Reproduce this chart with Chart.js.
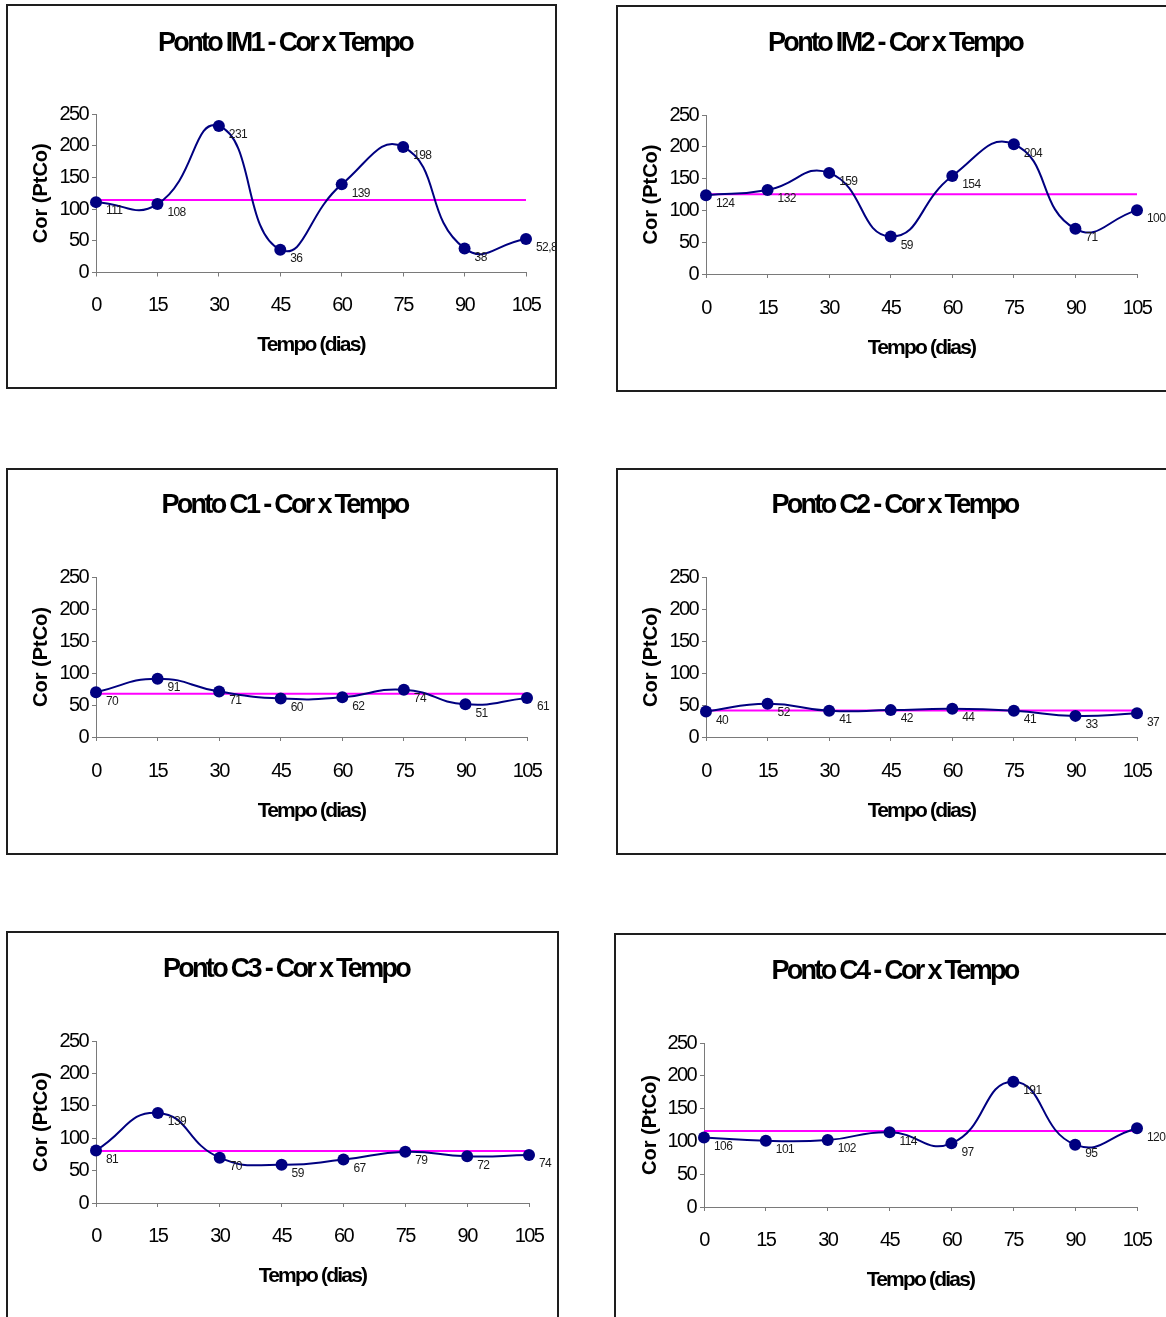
<!DOCTYPE html>
<html><head><meta charset="utf-8">
<script src="https://cdn.jsdelivr.net/npm/chart.js@4.4.1/dist/chart.umd.min.js"></script>
<style>
html,body{margin:0;padding:0;background:#fff;}
body{width:1166px;height:1317px;overflow:hidden;position:relative;}
.panel{position:absolute;box-sizing:border-box;border:2px solid #1e1e1e;background:#fff;}
.panel canvas{position:absolute;left:0;top:0;}
</style></head><body>
<script>
// ---------- data ----------
const days = [0, 15, 30, 45, 60, 75, 90, 105];
const xTickValues = [0, 15, 30, 45, 60, 75, 90, 105];
const yTickValues = [0, 50, 100, 150, 200, 250];
const chartTitles = ['Ponto IM1 - Cor x Tempo', 'Ponto IM2 - Cor x Tempo', 'Ponto C1 - Cor x Tempo',
                     'Ponto C2 - Cor x Tempo', 'Ponto C3 - Cor x Tempo', 'Ponto C4 - Cor x Tempo'];
const xAxisTitle = 'Tempo (dias)';
const yAxisTitle = 'Cor (PtCo)';
const corIM1 = [111, 108, 231, 36, 139, 198, 38, 52.8];
const corIM2 = [124, 132, 159, 59, 154, 204, 71, 100.4];
const corC1  = [70, 91, 71, 60, 62, 74, 51, 61];
const corC2  = [40, 52, 41, 42, 44, 41, 33, 37];
const corC3  = [81, 139, 70, 59, 67, 79, 72, 74];
const corC4  = [106, 101, 102, 114, 97, 191, 95, 120];
const referenceLevel = [114.2, 125.4, 67.5, 41.3, 80.1, 115.8];
const seriesList = [corIM1, corIM2, corC1, corC2, corC3, corC4];

// ---------- layout (page pixels) ----------
const panelBoxes = [
  {L:6,   T:4,   W:551, H:385, plot:[96, 526, 114, 272.5], titleX:285,   titleY:44,  yTitleX:41,  xTickY:305,  xTitleY:345},
  {L:616, T:5,   W:558, H:387, plot:[706,1137,115, 274],   titleX:895,   titleY:44,  yTitleX:651, xTickY:308,  xTitleY:348},
  {L:6,   T:468, W:552, H:387, plot:[96, 527, 577, 737],   titleX:284.5, titleY:506, yTitleX:41,  xTickY:771,  xTitleY:811},
  {L:616, T:468, W:558, H:387, plot:[706,1137,577, 737],   titleX:894.5, titleY:506, yTitleX:651, xTickY:771,  xTitleY:811},
  {L:6,   T:931, W:553, H:400, plot:[96, 529, 1041,1203],  titleX:286,   titleY:970, yTitleX:41,  xTickY:1236, xTitleY:1276},
  {L:614, T:933, W:560, H:400, plot:[704,1137,1043,1207],  titleX:894.5, titleY:972, yTitleX:650, xTickY:1240, xTitleY:1280}
];

const FONT = '"Liberation Sans", Arial, sans-serif';
const NAVY = '#000080';
const MAGENTA = '#FF00FF';
const AXIS = '#7a7a7a';
const SPACING = {title: '-2.7px', ticks: '-1.6px', xTitle: '-1.8px', yTitle: '0px', labels: '-0.6px'};

function fmt(v) { return String(v).replace('.', ','); }

function withSpacing(obj, method, spacing) {
  if (!obj || obj['_ws_' + method]) return;
  const orig = obj[method];
  obj[method] = function (...args) {
    const ctx = this.ctx;
    const prev = ctx.letterSpacing;
    ctx.letterSpacing = spacing;
    try { return orig.apply(this, args); } finally { ctx.letterSpacing = prev; }
  };
  obj['_ws_' + method] = true;
}

const textSpacing = {
  id: 'textSpacing',
  beforeDraw(chart) {
    withSpacing(chart.titleBlock, 'draw', SPACING.title);
    withSpacing(chart.scales.x, 'drawLabels', SPACING.ticks);
    withSpacing(chart.scales.y, 'drawLabels', SPACING.ticks);
    withSpacing(chart.scales.x, 'drawTitle', SPACING.xTitle);
    withSpacing(chart.scales.y, 'drawTitle', SPACING.yTitle);
  }
};

const pointLabels = {
  id: 'pointLabels',
  afterDatasetsDraw(chart) {
    const ctx = chart.ctx;
    const meta = chart.getDatasetMeta(0);
    const ds = chart.data.datasets[0];
    ctx.save();
    ctx.letterSpacing = SPACING.labels;
    ctx.font = '12px ' + FONT;
    ctx.fillStyle = '#1a1a1a';
    ctx.textAlign = 'left';
    ctx.textBaseline = 'middle';
    meta.data.forEach((pt, j) => {
      ctx.fillText(fmt(ds.data[j].y), pt.x + 10, pt.y + 9);
    });
    ctx.restore();
  }
};

function makeChart(i) {
  const p = panelBoxes[i];
  const div = document.createElement('div');
  div.className = 'panel';
  div.style.left = p.L + 'px'; div.style.top = p.T + 'px';
  div.style.width = p.W + 'px'; div.style.height = p.H + 'px';
  const cw = p.W - 4, ch = p.H - 4, ox = p.L + 2, oy = p.T + 2;
  const canvas = document.createElement('canvas');
  canvas.width = cw; canvas.height = ch;
  canvas.style.width = cw + 'px'; canvas.style.height = ch + 'px';
  div.appendChild(canvas);
  document.body.appendChild(div);

  const left = p.plot[0] - ox, right = p.plot[1] - ox, top = p.plot[2] - oy, bottom = p.plot[3] - oy;
  const pr = cw - right;
  const pl = 2 * (p.titleX - ox) - (cw - pr);
  const TS = 27, TLH = TS * 1.2;
  const tPadTop = (p.titleY - oy) - TLH / 2;
  const tPadBottom = top - TLH - tPadTop;
  const YTS = 20, YTLH = 24;
  const yTitlePad = (p.yTitleX - ox - pl) - YTLH / 2;
  const TICK_LEN = 4;
  const TICK_SIZE = 20, XTLH = TICK_SIZE * 1.2;
  const xTickPad = (p.xTickY - oy) - bottom - TICK_LEN - XTLH / 2;
  const XTS = 21, XTTLH = 25.2;
  const xTitlePad = ch - (p.xTitleY - oy) - XTTLH / 2;

  const series = seriesList[i];
  new Chart(canvas, {
    type: 'line',
    data: {
      datasets: [
        {
          data: days.map((d, j) => ({x: d, y: series[j]})),
          borderColor: NAVY, backgroundColor: NAVY, borderWidth: 2,
          pointRadius: 6, pointBackgroundColor: NAVY, pointBorderColor: NAVY, pointBorderWidth: 0,
          tension: 0.5, fill: false, clip: false
        },
        {
          data: [{x: days[0], y: referenceLevel[i]}, {x: days[days.length - 1], y: referenceLevel[i]}],
          borderColor: MAGENTA, borderWidth: 2, pointRadius: 0, tension: 0, fill: false, clip: false
        }
      ]
    },
    options: {
      responsive: false, animation: false, devicePixelRatio: 1,
      layout: {padding: {left: pl, right: pr, top: 0, bottom: 0}, autoPadding: false},
      plugins: {
        legend: {display: false}, tooltip: {enabled: false},
        title: {
          display: true, text: chartTitles[i], color: '#000',
          font: {family: FONT, size: TS, weight: 'bold', lineHeight: 1.2},
          padding: {top: tPadTop, bottom: tPadBottom}
        }
      },
      scales: {
        x: {
          type: 'linear', min: 0, max: 105,
          afterBuildTicks: s => { s.ticks = xTickValues.map(v => ({value: v})); },
          afterFit: s => { s.height = ch - bottom; s.paddingLeft = 0; s.paddingRight = 0; },
          grid: {drawOnChartArea: false, drawTicks: true, tickLength: TICK_LEN, color: AXIS},
          border: {display: true, color: AXIS, width: 1},
          ticks: {color: '#000', font: {family: FONT, size: TICK_SIZE, lineHeight: 1.2}, padding: xTickPad, maxRotation: 0, autoSkip: false},
          title: {display: true, text: xAxisTitle, color: '#000',
                  font: {family: FONT, size: XTS, weight: 'bold', lineHeight: 1.2},
                  padding: {top: 0, bottom: xTitlePad}}
        },
        y: {
          type: 'linear', min: 0, max: 250,
          afterBuildTicks: s => { s.ticks = yTickValues.map(v => ({value: v})); },
          afterFit: s => { s.width = left - pl; },
          grid: {drawOnChartArea: false, drawTicks: true, tickLength: TICK_LEN, color: AXIS},
          border: {display: true, color: AXIS, width: 1},
          ticks: {color: '#000', font: {family: FONT, size: TICK_SIZE, lineHeight: 1.2}, padding: 4, autoSkip: false},
          title: {display: true, text: yAxisTitle, color: '#000',
                  font: {family: FONT, size: YTS, weight: 'bold', lineHeight: 1.2},
                  padding: {top: yTitlePad, bottom: 0}}
        }
      }
    },
    plugins: [textSpacing, pointLabels]
  });
}

for (let i = 0; i < 6; i++) makeChart(i);
</script>
</body></html>
